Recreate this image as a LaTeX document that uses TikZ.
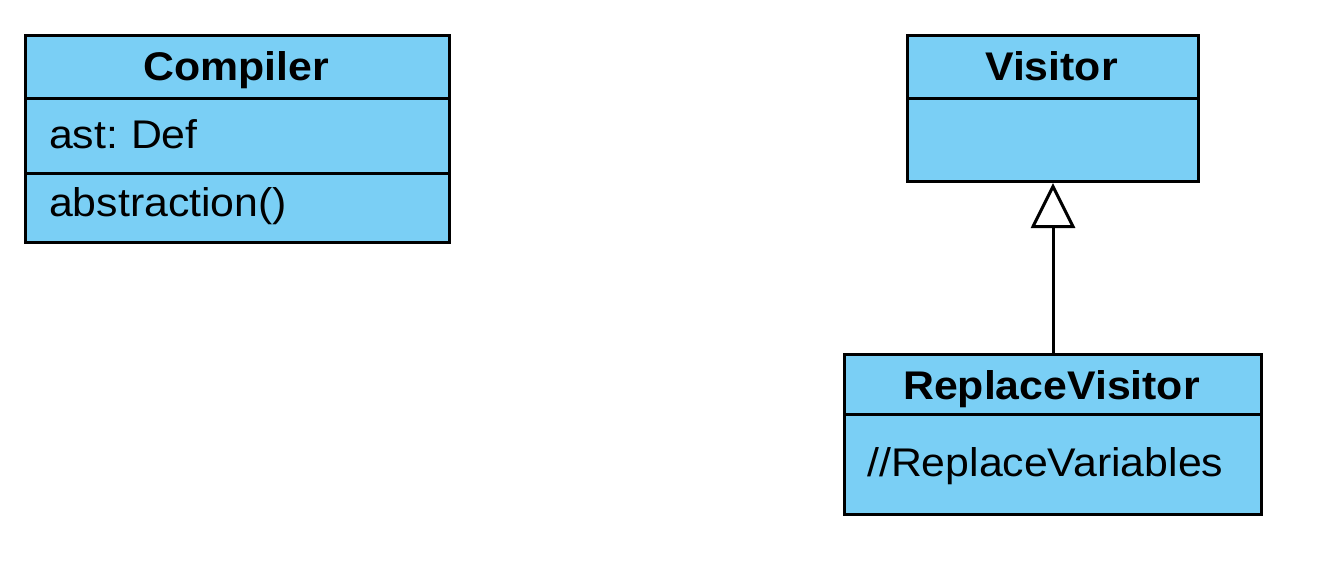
\documentclass[tikz,border=0pt]{standalone}
\usepackage{fontspec}
\setmainfont{Liberation Sans}[FakeStretch=1.07]
\usetikzlibrary{arrows.meta}
\definecolor{clsfill}{HTML}{7ACFF5}
\begin{document}
\begin{tikzpicture}[x=1pt,y=1pt,
  box/.style={draw=black, fill=clsfill, line width=3pt, inner sep=0pt, anchor=north west},
  sep/.style={draw=black, line width=3pt},
  txt/.style={inner sep=0pt, anchor=base, font=\fontsize{40}{48}\selectfont},
  ltxt/.style={txt, anchor=base west},
  gen/.style={line width=3pt, -{Triangle[open, length=45pt, width=44pt, line width=3pt]}}]
\useasboundingbox (0,0) rectangle (1334,-574);
% Compiler
\node[box, minimum width=424pt, minimum height=207pt] (compiler) at (24,-34) {};
\draw[sep] (24,-98) -- (448,-98);
\draw[sep] (24,-173) -- (448,-173);
\node[txt] (compname) at (236,-80) {\bfseries Compiler};
\node[ltxt] (compattr) at (49,-148) {ast:\kern-3pt{} Def};
\node[ltxt] (compop) at (49,-216) {abstraction()};
% Visitor
\node[box, minimum width=291pt, minimum height=146pt] (visitor) at (906,-34) {};
\draw[sep] (906,-98) -- (1197,-98);
\node[txt] (visname) at (1051.5,-80) {\bfseries Visitor};
% ReplaceVisitor
\node[box, minimum width=417pt, minimum height=160pt] (rv) at (843,-353) {};
\draw[sep] (843,-414) -- (1260,-414);
\node[txt] (rvname) at (1051.5,-399) {\bfseries ReplaceVisitor};
\node[ltxt] (rvattr) at (867,-476) {//ReplaceVariables};
% generalization
\draw[gen] (rv.north) -- (visitor.south);
\end{tikzpicture}
\end{document}
